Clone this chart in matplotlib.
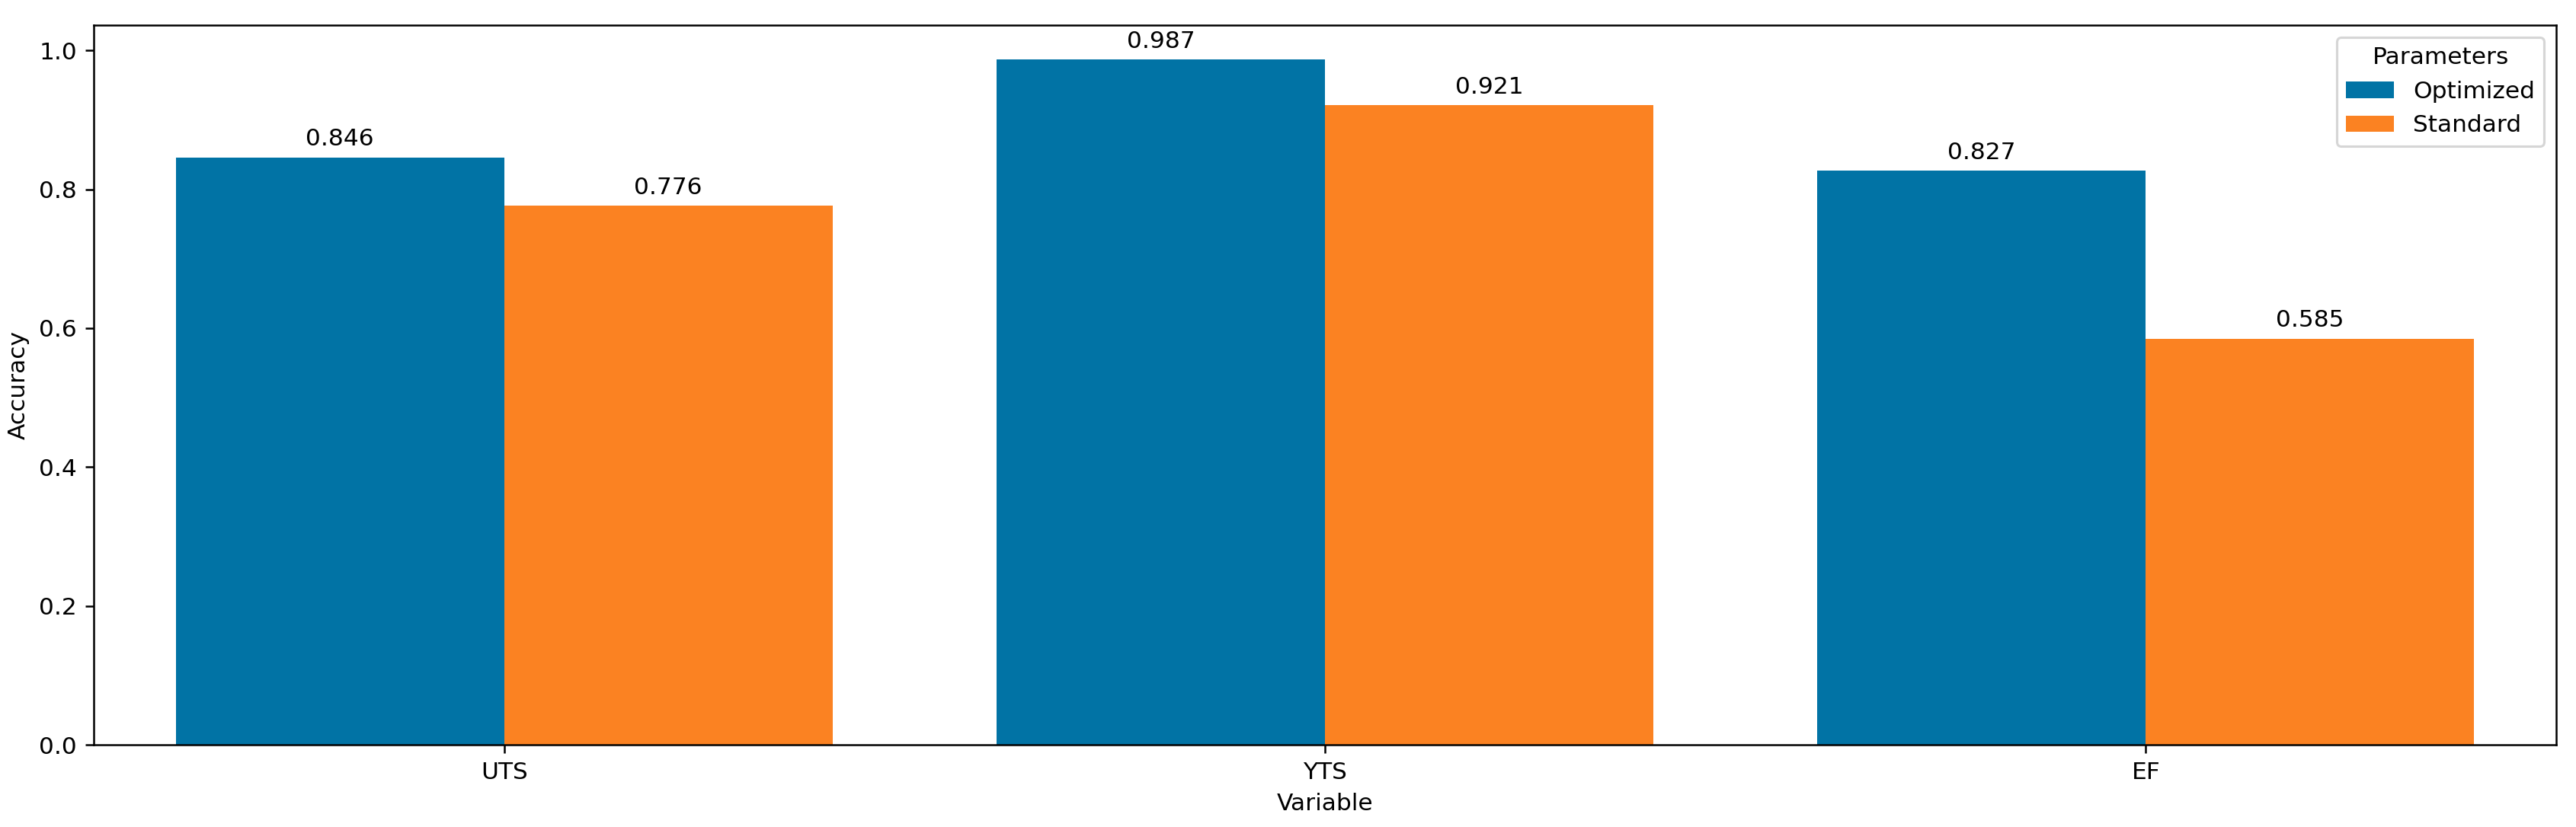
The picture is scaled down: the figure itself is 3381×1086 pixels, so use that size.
import matplotlib
matplotlib.use("Agg")
import matplotlib.pyplot as plt
import numpy as np

variables = ["UTS", "YTS", "EF"]
optimized = [0.846, 0.987, 0.827]
standard = [0.776, 0.921, 0.585]

fig = plt.figure(figsize=(3381 / 225, 1086 / 225), dpi=225)
ax = fig.add_axes([0.0364, 0.0994, 0.9559, 0.8702])

x = np.arange(len(variables))
w = 0.4
b1 = ax.bar(x - w / 2, optimized, w, color="#0173a5", label="Optimized")
b2 = ax.bar(x + w / 2, standard, w, color="#fb8222", label="Standard")
ax.bar_label(b1, fmt="%.3f", padding=3)
ax.bar_label(b2, fmt="%.3f", padding=3)

ax.set_xticks(x)
ax.set_xticklabels(variables)
ax.set_xlim(-0.5, 2.5)
ax.set_xlabel("Variable")
ax.set_ylabel("Accuracy")
ax.legend(title="Parameters", loc="upper right")

fig.savefig("out.png", dpi=225)
